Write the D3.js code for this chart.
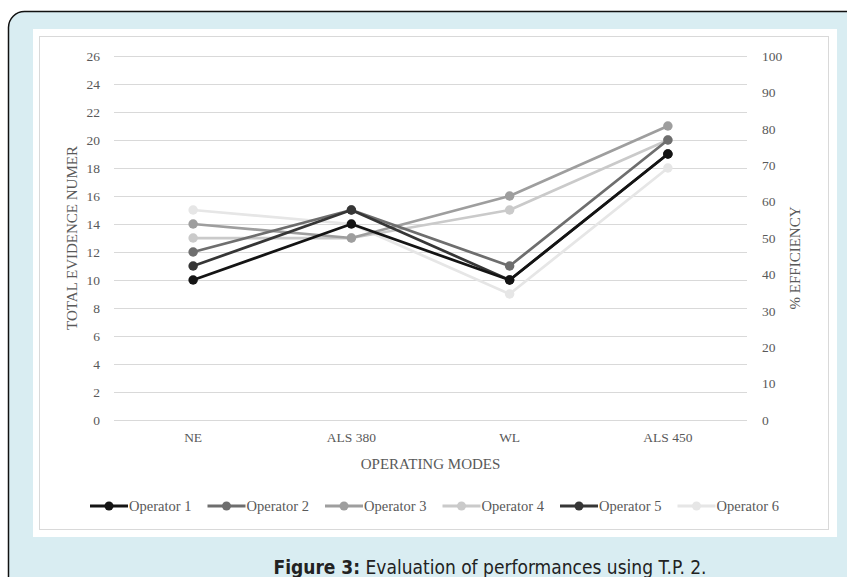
<!DOCTYPE html>
<html><head><meta charset="utf-8">
<script src="https://cdnjs.cloudflare.com/ajax/libs/d3/7.8.5/d3.min.js"></script>
<style>html,body{margin:0;padding:0;background:#fff;}svg{display:block;}</style>
</head><body>
<svg id="c" width="847" height="577"></svg>
<script>
const categories = ["NE", "ALS 380", "WL", "ALS 450"];
const seriesNames = ["Operator 1","Operator 2","Operator 3","Operator 4","Operator 5","Operator 6"];
const op1 = [10, 14, 10, 19];
const op2 = [12, 15, 11, 20];
const op3 = [14, 13, 16, 21];
const op4 = [13, 13, 15, 20];
const op5 = [11, 15, 10, 19];
const op6 = [15, 14, 9, 18];
const leftTicks = [0,2,4,6,8,10,12,14,16,18,20,22,24,26];
const rightTicks = [0,10,20,30,40,50,60,70,80,90,100];
const colors = ["#141414","#6e6e6e","#9e9e9e","#cacaca","#363636","#e6e6e6"];
const series = [op1,op2,op3,op4,op5,op6];

(function(){
const svg = d3.select("#c");
svg.append("rect").attr("x",8.5).attr("y",11.5).attr("width",880).attr("height",600)
  .attr("rx",16).attr("fill","#d9edf2").attr("stroke","#111").attr("stroke-width",1.5);
svg.append("rect").attr("x",33).attr("y",29).attr("width",804).attr("height",508).attr("fill","#fff");
svg.append("rect").attr("x",39.5).attr("y",36.5).attr("width",789).attr("height",493)
  .attr("fill","none").attr("stroke","#d9d9d9").attr("stroke-width",1);

const pL = 114, pR = 747, pT = 56, pB = 420;
const x = d3.scaleBand().domain(categories).range([pL,pR]);
const y = d3.scaleLinear().domain([0,26]).range([pB,pT]);
const y2 = d3.scaleLinear().domain([0,100]).range([pB,pT]);

const font = "'Liberation Serif','Times New Roman',serif";
const txt = "#595959";

svg.append("g").selectAll("line").data(leftTicks).join("line")
  .attr("x1",pL).attr("x2",pR).attr("y1",d=>y(d)+0.5).attr("y2",d=>y(d)+0.5)
  .attr("stroke","#d9d9d9").attr("stroke-width",1);

const ga = svg.append("g").attr("transform",`translate(${pL-14},0)`)
  .call(d3.axisLeft(y).tickValues(leftTicks).tickSize(0).tickPadding(0));
ga.select(".domain").remove();
ga.selectAll("text").attr("font-family",font).attr("font-size",13.5).attr("fill",txt);

const gb = svg.append("g").attr("transform",`translate(${pR+15},0)`)
  .call(d3.axisRight(y2).tickValues(rightTicks).tickSize(0).tickPadding(0));
gb.select(".domain").remove();
gb.selectAll("text").attr("font-family",font).attr("font-size",13.5).attr("fill",txt);

const gc = svg.append("g").attr("transform",`translate(0,${pB+12})`)
  .call(d3.axisBottom(x).tickSize(0).tickPadding(0));
gc.select(".domain").remove();
gc.selectAll("text").attr("font-family",font).attr("font-size",13.5).attr("fill",txt);

svg.append("text").attr("x",(pL+pR)/2).attr("y",469).attr("text-anchor","middle")
  .attr("font-family",font).attr("font-size",15).attr("fill",txt).text("OPERATING MODES");
svg.append("text").attr("transform",`translate(77,${(pT+pB)/2}) rotate(-90)`).attr("text-anchor","middle")
  .attr("font-family",font).attr("font-size",15).attr("fill",txt).text("TOTAL EVIDENCE NUMER");
svg.append("text").attr("transform",`translate(800,258) rotate(-90)`).attr("text-anchor","middle")
  .attr("font-family",font).attr("font-size",15).attr("fill",txt).text("% EFFICIENCY");

const line = d3.line().x((d,i)=>x(categories[i])+x.bandwidth()/2).y(d=>y(d));
const order = [5,3,2,1,4,0];
order.forEach(k=>{
  const g = svg.append("g");
  g.append("path").datum(series[k]).attr("d",line).attr("fill","none")
    .attr("stroke",colors[k]).attr("stroke-width",2.75).attr("stroke-linejoin","round");
  g.selectAll("circle").data(series[k]).join("circle")
    .attr("cx",(d,i)=>x(categories[i])+x.bandwidth()/2).attr("cy",d=>y(d)).attr("r",4.75)
    .attr("fill",colors[k]);
});

const lg = svg.append("g");
seriesNames.forEach((n,i)=>{
  const lx = 90 + i*117.5, ly = 506;
  lg.append("line").attr("x1",lx).attr("x2",lx+38).attr("y1",ly).attr("y2",ly)
    .attr("stroke",colors[i]).attr("stroke-width",3);
  lg.append("circle").attr("cx",lx+19).attr("cy",ly).attr("r",4.5).attr("fill",colors[i]);
  lg.append("text").attr("x",lx+39).attr("y",ly+5).attr("font-family",font).attr("font-size",14.5)
    .attr("fill",txt).text(n);
});

const cap = svg.append("text").attr("x",490).attr("y",574).attr("text-anchor","middle")
  .attr("font-family","'DejaVu Sans Condensed','Liberation Sans Narrow','DejaVu Sans',sans-serif")
  .attr("font-size",19).attr("fill","#222");
cap.append("tspan").attr("font-weight","bold").text("Figure 3:");
cap.append("tspan").text(" Evaluation of performances using T.P. 2.");
})();
</script>
</body></html>
